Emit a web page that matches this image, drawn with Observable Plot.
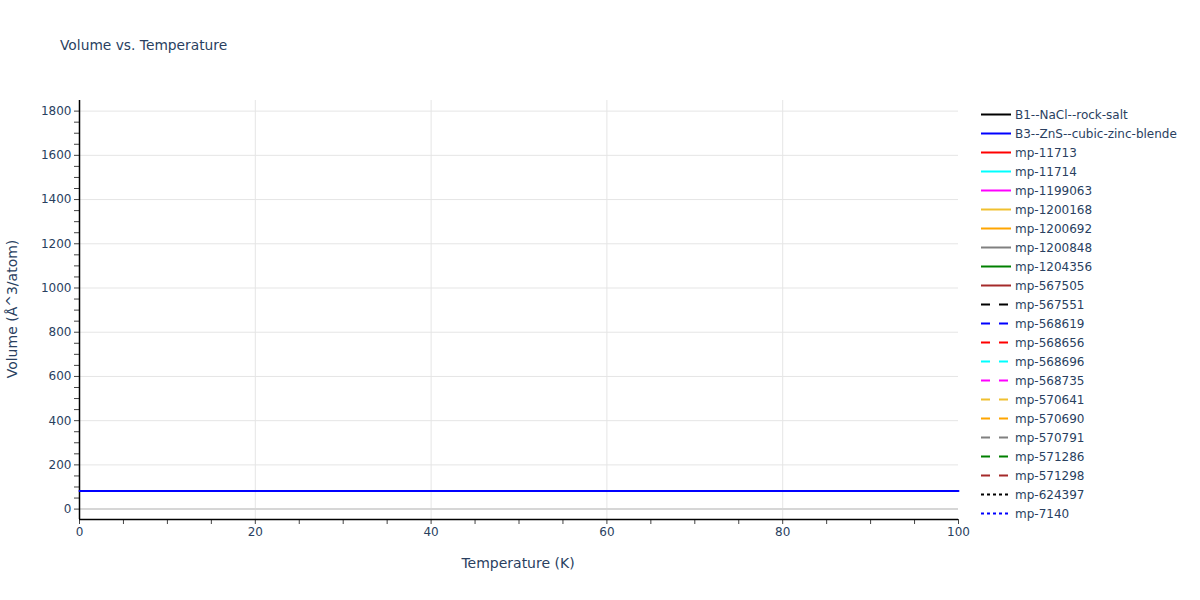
<!DOCTYPE html>
<html><head><meta charset="utf-8">
<script src="https://cdn.jsdelivr.net/npm/d3@7"></script>
<script src="https://cdn.jsdelivr.net/npm/@observablehq/plot@0.6"></script>
<style>
body{margin:0;background:#fff;font-family:"DejaVu Sans",sans-serif;}
#wrap{position:relative;width:1200px;height:600px;overflow:hidden;}
#title{position:absolute;left:60px;top:45px;transform:translateY(-50%);font-size:13.8px;color:#2a3f5f;white-space:nowrap;}
#xlab{position:absolute;left:518px;top:563px;transform:translate(-50%,-50%);font-size:14px;color:#2a3f5f;white-space:nowrap;}
#ylab{position:absolute;left:12px;top:309px;transform:translate(-50%,-50%) rotate(-90deg);font-size:14px;color:#2a3f5f;white-space:nowrap;}
#chart{position:absolute;left:0;top:0;}
#legend{position:absolute;left:0;top:0;}
</style></head>
<body>
<div id="wrap">
  <div id="chart"></div>
  <div id="legend"></div>
  <div id="title">Volume vs. Temperature</div>
  <div id="xlab">Temperature (K)</div>
  <div id="ylab">Volume (Å^3/atom)</div>
</div>
<script>
// Series shown in the legend
const seriesNames = ["B1--NaCl--rock-salt","B3--ZnS--cubic-zinc-blende","mp-11713","mp-11714","mp-1199063","mp-1200168","mp-1200692","mp-1200848","mp-1204356","mp-567505","mp-567551","mp-568619","mp-568656","mp-568696","mp-568735","mp-570641","mp-570690","mp-570791","mp-571286","mp-571298","mp-624397","mp-7140"];
const seriesColors = ["black","blue","red","cyan","magenta","#f0c030","orange","gray","green","brown","black","blue","red","cyan","magenta","#f0c030","orange","gray","green","brown","black","blue"];
const seriesDash = ["solid","solid","solid","solid","solid","solid","solid","solid","solid","solid","dash","dash","dash","dash","dash","dash","dash","dash","dash","dash","dot","dot"];

// Visible data: B3--ZnS--cubic-zinc-blende
const temperatures = [0,10,20,30,40,50,60,70,80,90,100];
const volumesB3 = [82.4,82.4,82.4,82.4,82.4,82.4,82.4,82.4,82.4,82.4,82.4];

// Axis ticks
const xTicks = d3.range(0,101,5);
const xLabels = [0,20,40,60,80,100];
const yLabels = [0,200,400,600,800,1000,1200,1400,1600,1800];
const xGrid = [20,40,60,80];

const data = temperatures.map((t,i)=>({t, v: volumesB3[i], s: seriesNames[1]}));
const yDomain = [-47,1848];
const yMinor = d3.range(-50,1851,50).filter(d=>d>=yDomain[0]&&d<=yDomain[1]);

const chart = Plot.plot({
  width:1200, height:600,
  marginLeft:79, marginRight:242, marginTop:100, marginBottom:81,
  x:{domain:[0,100]},
  y:{domain:yDomain},
  style:{fontFamily:"'DejaVu Sans', sans-serif", fontSize:"12px", color:"#2a3f5f", background:"white"},
  marks:[
    Plot.gridY(yLabels.filter(d=>d!==0),{stroke:"#e5e5e5",strokeOpacity:1}),
    Plot.gridX(xGrid,{stroke:"#e5e5e5",strokeOpacity:1}),
    Plot.ruleY([0],{stroke:"#d6d6d6",strokeWidth:2}),
    Plot.axisY(yMinor,{tickSize:5,tickPadding:3,stroke:"#444",fill:"#2a3f5f",label:null,tickFormat:d=>yLabels.includes(d)?String(d):""}),
    Plot.axisX(xTicks,{tickSize:5,tickPadding:3,stroke:"#444",fill:"#2a3f5f",label:null,tickFormat:d=>xLabels.includes(d)?String(d):""}),
    Plot.ruleX([0],{stroke:"black",strokeWidth:1.5}),
    Plot.ruleY([yDomain[0]],{stroke:"black",strokeWidth:1.5}),
    Plot.line(data,{x:"t",y:"v",stroke:seriesColors[1],strokeWidth:2})
  ]
});
document.getElementById("chart").appendChild(chart);

// Legend
const dashMap = {solid:null, dash:"9,9", dot:"3,3"};
const lg = d3.select("#legend").append("svg").attr("width",1200).attr("height",600);
seriesNames.forEach((name,i)=>{
  const y = 114.5 + i*19;
  lg.append("line").attr("x1",981).attr("x2",1011).attr("y1",y).attr("y2",y)
    .attr("stroke",seriesColors[i]).attr("stroke-width",2)
    .attr("stroke-dasharray",dashMap[seriesDash[i]]);
  lg.append("text").attr("x",1015).attr("y",y).attr("dy","0.35em")
    .attr("font-family","'DejaVu Sans', sans-serif").attr("font-size",12)
    .attr("fill","#2a3f5f").text(name);
});
</script>
</body></html>
